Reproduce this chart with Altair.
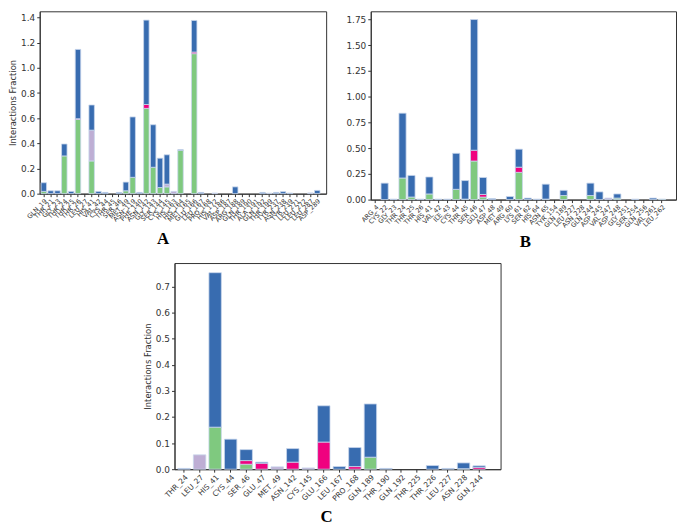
import altair as alt
import pandas as pd

TYPES = ["H-bonds", "Hydrophobic", "Ionic", "Water bridges"]
COLORS = ["#7fc97f", "#beaed4", "#f0027f", "#386cb0"]

# ---------------- Panel A ----------------
A_res = ["GLN_19", "THR_21", "GLY_23", "THR_24", "THR_25", "THR_26", "LEU_27", "HIS_41", "VAL_42", "CYS_44",
         "THR_45", "SER_46", "MET_49", "ASN_119", "PHE_140", "ASN_142", "GLY_143", "SER_144", "CYS_145", "HIS_163",
         "HIS_164", "MET_165", "GLU_166", "LEU_167", "PRO_168", "HIS_172", "VAL_186", "ASP_187", "ARG_188", "GLN_189",
         "THR_190", "ALA_191", "GLN_192", "THR_199", "TYR_237", "ASN_238", "TYR_239", "LEU_271", "LEU_272", "LEU_287",
         "ASP_289"]
A_hb = [0.018, 0, 0, 0.300, 0, 0.590, 0, 0.260, 0, 0,
        0, 0, 0.023, 0.130, 0, 0.678, 0.210, 0.049, 0.054, 0,
        0.345, 0, 1.113, 0, 0, 0, 0, 0, 0, 0,
        0, 0, 0, 0, 0, 0, 0, 0, 0, 0,
        0]
A_hp = [0, 0, 0, 0, 0, 0, 0, 0.245, 0, 0,
        0, 0, 0, 0, 0, 0, 0, 0, 0.022, 0.018,
        0, 0, 0, 0, 0, 0.005, 0, 0, 0, 0,
        0, 0, 0, 0.004, 0, 0, 0, 0, 0, 0.006,
        0]
A_ion = [0, 0, 0, 0, 0, 0.006, 0, 0, 0, 0,
         0, 0, 0, 0, 0, 0.031, 0, 0, 0, 0,
         0, 0, 0.013, 0, 0, 0, 0, 0, 0, 0,
         0, 0, 0, 0, 0, 0, 0, 0, 0, 0,
         0]
A_wb = [0.069, 0.023, 0.023, 0.095, 0.018, 0.551, 0, 0.200, 0.018, 0.010,
        0, 0.010, 0.069, 0.480, 0.010, 0.671, 0.338, 0.233, 0.233, 0,
        0.005, 0, 0.251, 0.010, 0, 0, 0, 0, 0.054, 0,
        0, 0, 0.010, 0, 0.010, 0.016, 0.005, 0, 0, 0,
        0.026]

# ---------------- Panel B ----------------
B_res = ["ARG_4", "CYS_22", "GLY_23", "THR_24", "THR_25", "THR_26", "HIS_41", "VAL_42", "ILE_43", "CYS_44",
         "THR_45", "SER_46", "GLU_47", "ASP_48", "MET_49", "ARG_60", "LYS_61", "SER_62", "HIS_64", "ASN_65",
         "TYR_154", "GLN_189", "LEU_227", "ASN_228", "GLN_244", "ASP_245", "VAL_247", "ASP_248", "GLY_251", "SER_254",
         "GLN_256", "VAL_261", "LEU_262"]
B_hb = [0, 0, 0, 0.210, 0.025, 0, 0.055, 0, 0, 0.100,
        0.005, 0.375, 0.025, 0, 0, 0, 0.265, 0, 0, 0.005,
        0, 0.040, 0, 0, 0.040, 0, 0, 0.015, 0, 0,
        0, 0, 0.005]
B_hp = [0, 0, 0, 0, 0, 0, 0, 0, 0, 0,
        0, 0, 0, 0, 0, 0, 0, 0, 0, 0,
        0, 0, 0, 0, 0, 0, 0.015, 0, 0, 0,
        0, 0, 0]
B_ion = [0, 0, 0, 0, 0, 0, 0, 0, 0, 0,
         0, 0.105, 0.025, 0, 0, 0, 0.050, 0, 0, 0,
         0, 0, 0, 0, 0, 0, 0, 0, 0, 0,
         0, 0, 0]
B_wb = [0, 0.160, 0.005, 0.630, 0.210, 0.005, 0.165, 0.005, 0.005, 0.350,
        0.180, 1.270, 0.165, 0.010, 0, 0.030, 0.175, 0.015, 0.005, 0.145,
        0, 0.050, 0, 0, 0.120, 0.075, 0, 0.040, 0, 0.005,
        0, 0.015, 0]

# ---------------- Panel C ----------------
C_res = ["THR_24", "LEU_27", "HIS_41", "CYS_44", "SER_46", "GLU_47", "MET_49", "ASN_142", "CYS_145", "GLU_166",
         "LEU_167", "PRO_168", "GLN_189", "THR_190", "GLN_192", "THR_225", "THR_226", "LEU_227", "ASN_228", "GLN_244"]
C_hb = [0, 0, 0.161, 0, 0.019, 0, 0, 0, 0, 0,
        0, 0, 0.046, 0, 0, 0, 0, 0, 0.002, 0]
C_hp = [0, 0.055, 0, 0, 0, 0, 0.009, 0, 0.005, 0,
        0, 0, 0, 0, 0, 0, 0, 0, 0, 0]
C_ion = [0, 0, 0, 0, 0.014, 0.023, 0, 0.027, 0, 0.104,
         0, 0.010, 0, 0, 0, 0, 0, 0, 0, 0.007]
C_wb = [0.003, 0, 0.592, 0.115, 0.042, 0.004, 0, 0.052, 0, 0.139,
        0.010, 0.073, 0.204, 0.003, 0, 0, 0.014, 0.003, 0.022, 0.006]


def panel_df(res, hb, hp, ion, wb):
    rows = []
    for i, r in enumerate(res):
        for k, (t, arr) in enumerate(zip(TYPES, [hb, hp, ion, wb])):
            if arr[i] > 0:
                rows.append({"residue": r, "type": t, "order": k, "value": arr[i]})
    return pd.DataFrame(rows)


def panel(df, res, width, height, ymax, ticks, fmt, ytitle, letter, po, align,
          xlab_size, title_dx, title_offset):
    ykw = dict(title=ytitle) if ytitle else dict(title=None)
    return alt.Chart(df).mark_bar(stroke="#c8d6ec", strokeWidth=0.8).encode(
        x=alt.X("residue:N", sort=res, title=None,
                scale=alt.Scale(domain=res, paddingInner=0.2, paddingOuter=po, align=align),
                axis=alt.Axis(labelAngle=-45, labelFontSize=xlab_size, labelOverlap=False,
                              labelBound=False, labelPadding=1, tickSize=3)),
        y=alt.Y("value:Q", stack="zero",
                scale=alt.Scale(domain=[0, ymax], nice=False, zero=True),
                axis=alt.Axis(values=ticks, format=fmt, labelFontSize=9, tickSize=3,
                              labelPadding=2, titlePadding=3),
                **ykw),
        color=alt.Color("type:N", scale=alt.Scale(domain=TYPES, range=COLORS), legend=None),
        order=alt.Order("order:Q", sort="ascending"),
    ).properties(
        width=width, height=height,
        title=alt.TitleParams(letter, orient="bottom", font="Liberation Serif", fontSize=17,
                              fontWeight="bold", color="black", frame="group",
                              dx=title_dx, offset=title_offset),
    )


dfA = panel_df(A_res, A_hb, A_hp, A_ion, A_wb)
dfB = panel_df(B_res, B_hb, B_hp, B_ion, B_wb)
dfC = panel_df(C_res, C_hb, C_hp, C_ion, C_wb)

chartA = panel(dfA, A_res, 289, 184, 1.45, [0, 0.2, 0.4, 0.6, 0.8, 1.0, 1.2, 1.4], ".1f",
               "Interactions Fraction", "A", 0.55, 0.18, 6.5, -20, 8)
chartB = panel(dfB, B_res, 308, 190, 1.83, [0, 0.25, 0.5, 0.75, 1.0, 1.25, 1.5, 1.75], ".2f",
               None, "B", 0.655, 0.115, 6.5, 2, 6)
chartC = panel(dfC, C_res, 329, 208, 0.79, [0, 0.1, 0.2, 0.3, 0.4, 0.5, 0.6, 0.7], ".1f",
               "Interactions Fraction", "C", 0.6, 0.18, 7.5, -11, 7)

spacer = alt.Chart(pd.DataFrame({"s": [0]})).mark_point(opacity=0).encode(
    x=alt.value(0), y=alt.value(0)
).properties(width=104, height=10, view=alt.ViewBackground(strokeOpacity=0))

top = alt.hconcat(chartA, chartB, spacing=18)
bottom = alt.hconcat(spacer, chartC, spacing=0)

chart = alt.vconcat(top, bottom, spacing=9).properties(padding=0).configure_view(
    stroke="#333333", strokeWidth=1
).configure_axis(
    grid=False, domainColor="#333333", tickColor="#333333", labelColor="#333333",
    titleColor="#333333", labelFont="DejaVu Sans", titleFont="DejaVu Sans",
    titleFontSize=8.5, titleFontWeight="normal"
)

chart.save("out.html", embed_options={"renderer": "svg", "actions": False})
